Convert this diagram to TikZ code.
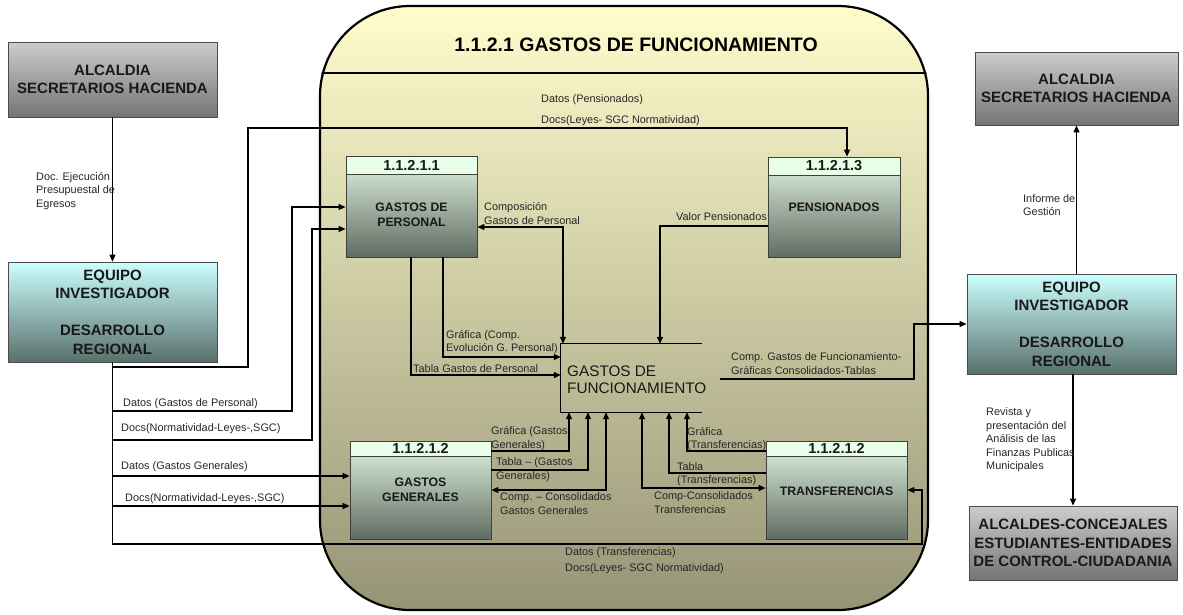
\documentclass[tikz,border=0pt]{standalone}
\usepackage{fontspec}
\setmainfont{Liberation Sans}
\usetikzlibrary{arrows.meta}

\definecolor{alcTop}{RGB}{205,205,205}
\definecolor{alcBot}{RGB}{116,116,116}
\definecolor{eqTop}{RGB}{204,255,255}
\definecolor{eqBot}{RGB}{88,112,108}
\definecolor{prTop}{RGB}{226,246,226}
\definecolor{prBot}{RGB}{96,108,98}
\definecolor{prHead}{RGB}{232,255,232}
\definecolor{panTop}{RGB}{255,253,205}
\definecolor{panBot}{RGB}{150,148,118}

\begin{document}
\begin{tikzpicture}[x=1pt,y=-1pt,
  tip/.tip={Triangle[length=7pt,width=6pt]},
  flow/.style={line width=1.2pt, -tip},
  flowboth/.style={line width=1.2pt, tip-tip},
  lbl/.style={font=\fontsize{10.9}{13.5}\selectfont, text=black!85, inner sep=0pt, align=left},
  ext/.style={draw=black!70, line width=0.8pt, inner sep=0pt, align=center,
    font=\fontsize{15}{18.5}\selectfont\bfseries, text=black!90},
  grayext/.style={ext, top color=alcTop, bottom color=alcBot},
  cyanext/.style={ext, top color=eqTop, bottom color=eqBot},
  procbody/.style={draw=black!75, line width=0.8pt, inner sep=0pt, top color=prTop, bottom color=prBot},
  prochead/.style={draw=black!75, line width=0.8pt, inner sep=0pt, fill=prHead,
    font=\fontsize{14.5}{16}\selectfont\bfseries, text=black!90},
  proctext/.style={inner sep=0pt, align=center, font=\fontsize{12.3}{15}\selectfont\bfseries, text=black!90},
]
\useasboundingbox (0,0) rectangle (1183,614);

% ---------- central panel ----------
\node[draw=black, line width=2.2pt, rounded corners=90pt, top color=panTop, bottom color=panBot,
      minimum width=608pt, minimum height=604pt, inner sep=0pt] (panel) at (624,308) {};
\node[font=\fontsize{19.5}{22}\selectfont\bfseries, inner sep=0pt] (title) at (636,45)
  {1.1.2.1 GASTOS DE FUNCIONAMIENTO};
\begin{scope}
  \clip[rounded corners=90pt] (panel.north west) rectangle (panel.south east);
  \draw[line width=2pt] (panel.west |- 0,73) -- (panel.east |- 0,73);
\end{scope}

% ---------- external entities ----------
\node[grayext, minimum width=209pt, minimum height=75pt] (alcL) at (112.5,79.5)
  {ALCALDIA\\SECRETARIOS HACIENDA};
\node[cyanext, minimum width=209pt, minimum height=100pt] (eqL) at (112.5,312)
  {EQUIPO\\INVESTIGADOR\\[18.5pt]DESARROLLO\\REGIONAL};
\node[grayext, minimum width=203pt, minimum height=73pt] (alcR) at (1076.5,88.5)
  {ALCALDIA\\SECRETARIOS HACIENDA};
\node[cyanext, minimum width=209pt, minimum height=100pt] (eqR) at (1071.5,324)
  {EQUIPO\\INVESTIGADOR\\[18.5pt]DESARROLLO\\REGIONAL};
\node[grayext, minimum width=208pt, minimum height=74pt] (alcdes) at (1073,543)
  {ALCALDES-CONCEJALES\\ESTUDIANTES-ENTIDADES\\DE CONTROL-CIUDADANIA};

% ---------- processes ----------
\node[procbody, minimum width=131pt, minimum height=101pt] (gp) at (411.5,206.5) {};
\node[prochead, minimum width=131pt, minimum height=18pt, anchor=north] (gph) at (gp.north) {1.1.2.1.1};
\node[proctext] (gpt) at (411.5,214.5) {GASTOS DE\\PERSONAL};

\node[procbody, minimum width=132pt, minimum height=100pt] (pen) at (834,207) {};
\node[prochead, minimum width=132pt, minimum height=18pt, anchor=north] (penh) at (pen.north) {1.1.2.1.3};
\node[proctext] (pent) at (834,207) {PENSIONADOS};

\node[procbody, minimum width=141pt, minimum height=98pt] (gg) at (420.5,490) {};
\node[prochead, minimum width=141pt, minimum height=15pt, anchor=north] (ggh) at (gg.north) {1.1.2.1.2};
\node[proctext] (ggt) at (420.5,490) {GASTOS\\GENERALES};

\node[procbody, minimum width=141pt, minimum height=98pt] (tr) at (836.5,490) {};
\node[prochead, minimum width=141pt, minimum height=15pt, anchor=north] (trh) at (tr.north) {1.1.2.1.2};
\node[proctext] (trt) at (836.5,491) {TRANSFERENCIAS};

% ---------- data store ----------
\node[minimum width=141pt, minimum height=68pt, inner sep=0pt] (gf) at (631.5,378) {};
\draw[line width=1.2pt] (gf.north east) -- (gf.north west) -- (gf.south west) -- (gf.south east);
\node[font=\fontsize{15.3}{17.5}\selectfont, align=left, anchor=west, inner sep=0pt, text=black!90]
  (gft) at (567,379.5) {GASTOS DE\\FUNCIONAMIENTO};
\coordinate (gfout) at (720,379);

% ---------- flows ----------
\draw[flow] (alcL.south) -- (eqL.north);
\draw[flow] (eqL.south) -- (eqL.south |- 0,544) -- (922,544) -- (922,490) -- (tr.east);
\draw[flow] (eqL.south |- 0,367) -- (248,367) -- (248,128) -- (847,128) -- (pen.north -| 847,0);
\draw[flow] (eqL.south |- 0,411) -- (292,411) -- (292,207) -- (gp.west |- 0,207);
\draw[flow] (eqL.south |- 0,440) -- (312,440) -- (312,229) -- (gp.west |- 0,229);
\draw[flow] (eqL.south |- 0,476) -- (gg.west |- 0,476);
\draw[flow] (eqL.south |- 0,506) -- (gg.west |- 0,506);

\draw[flow] (gp.south -| 443,0) -- (443,357) -- (gf.west |- 0,357);
\draw[flow] (gp.south -| 411,0) -- (411,375) -- (gf.west |- 0,375);
\draw[flowboth] (gp.east |- 0,227) -- (563,227) -- (gf.north -| 563,0);
\draw[flow] (pen.west |- 0,226) -- (660,226) -- (gf.north -| 660,0);
\draw[flow] (gfout) -- (914,379) -- (914,324) -- (eqR.west);

\draw[flow] (gg.east |- 0,451) -- (569,451) -- (gf.south -| 569,0);
\draw[flow] (gg.east |- 0,470) -- (588,470) -- (gf.south -| 588,0);
\draw[flowboth] (gg.east |- 0,490) -- (606,490) -- (gf.south -| 606,0);

\draw[flowboth] (tr.west |- 0,488) -- (642,488) -- (gf.south -| 642,0);
\draw[flow] (tr.west |- 0,473) -- (669,473) -- (gf.south -| 669,0);
\draw[flow] (tr.west |- 0,451) -- (687,451) -- (gf.south -| 687,0);

\draw[flow] (eqR.north -| alcR.south) -- (alcR.south);
\draw[flow] (eqR.south -| alcdes.north) -- (alcdes.north);

% ---------- flow labels ----------
\node[lbl, anchor=west] (l1) at (36,191) {Doc. Ejecución\\Presupuestal de\\Egresos};
\node[lbl, anchor=west] (l2) at (541,100) {Datos (Pensionados)};
\node[lbl, anchor=west] (l3) at (541,121) {Docs(Leyes- SGC Normatividad)};
\node[lbl, anchor=west] (l4) at (123,404) {Datos (Gastos de Personal)};
\node[lbl, anchor=west] (l5) at (121,429) {Docs(Normatividad-Leyes-,SGC)};
\node[lbl, anchor=west] (l6) at (121,467) {Datos (Gastos Generales)};
\node[lbl, anchor=west] (l7) at (125,499) {Docs(Normatividad-Leyes-,SGC)};
\node[lbl, anchor=west] (l8) at (565,553) {Datos (Transferencias)};
\node[lbl, anchor=west] (l9) at (565,569) {Docs(Leyes- SGC Normatividad)};
\node[lbl, anchor=west] (l10) at (484,213.5) {Composición\\Gastos de Personal};
\node[lbl, anchor=east] (l11) at (767,217) {Valor Pensionados};
\node[lbl, anchor=west] (l12) at (446,342) {Gráfica (Comp.\\Evolución G. Personal)};
\node[lbl, anchor=west] (l13) at (413,369) {Tabla Gastos de Personal};
\node[lbl, anchor=west] (l14) at (731,363.5) {Comp. Gastos de Funcionamiento-\\Gráficas Consolidados-Tablas};
\node[lbl, anchor=west] (l15) at (491,438.5) {Gráfica (Gastos\\Generales)};
\node[lbl, anchor=west] (l16) at (496,469.5) {Tabla – (Gastos\\Generales)};
\node[lbl, anchor=west] (l17) at (500,503.5) {Comp. – Consolidados\\Gastos Generales};
\node[lbl, anchor=west] (l18) at (687,439) {Gráfica\\(Transferencias)};
\node[lbl, anchor=west] (l19) at (677,474) {Tabla\\(Transferencias)};
\node[lbl, anchor=west] (l20) at (654,502.5) {Comp-Consolidados\\Transferencias};
\node[lbl, anchor=west] (l21) at (1023,205) {Informe de\\Gestión};
\node[lbl, anchor=west] (l22) at (986,440) {Revista y\\presentación del\\Análisis de las\\Finanzas Publicas\\Municipales};
\end{tikzpicture}
\end{document}
